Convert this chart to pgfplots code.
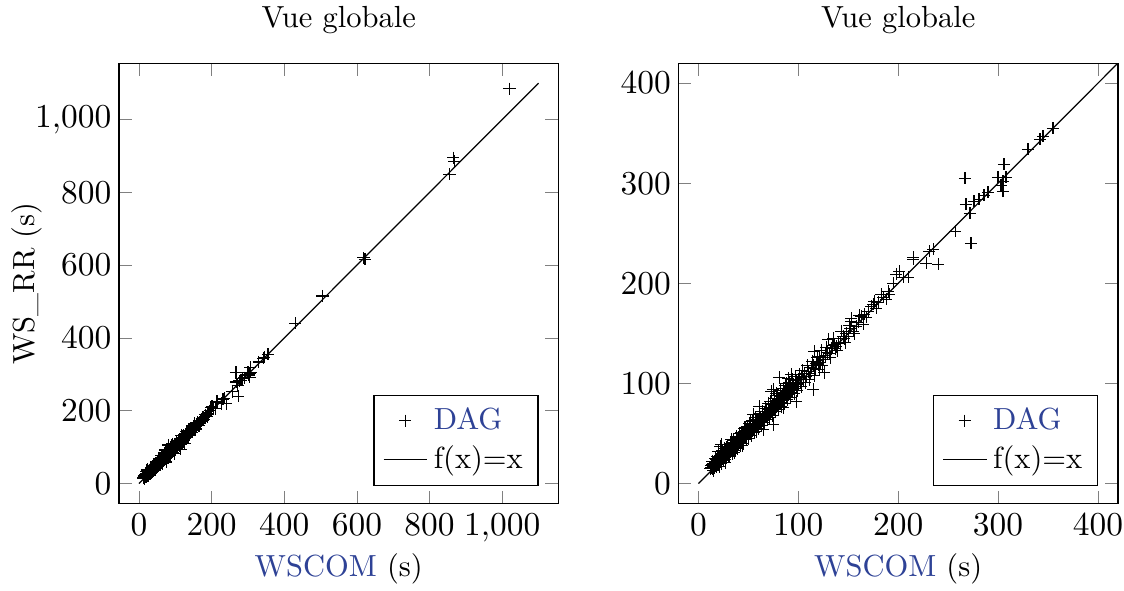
\documentclass[border=0pt]{standalone}
\usepackage{pgfplots}
\usepackage{pgfplotstable}
\pgfplotsset{compat=1.18}
\usetikzlibrary{calc}
\definecolor{dagblue}{RGB}{46,66,150}

\pgfplotstableread{
x y
12 15
13 16
13 18
14 15
14 19
15 17
15 20
16 16
16 19
16 22
17 18
17 21
18 17
18 20
18 24
19 19
19 22
20 20
20 23
20 26
21 21
21 25
22 22
22 24
22 28
23 23
23 26
24 25
24 29
25 24
25 27
25 31
26 26
26 29
27 28
27 32
28 27
28 30
29 29
29 33
30 30
30 34
31 31
31 35
32 32
32 36
33 33
33 37
34 35
34 39
35 34
35 38
36 36
36 41
37 37
37 40
38 38
38 43
39 40
39 44
40 39
40 42
40 46
20 32
23 39
33 44
22 37
28 36
27 24
30 27
36 31
41 41
41 45
42 43
42 47
43 42
43 46
44 45
44 49
45 44
45 48
46 47
46 51
47 46
47 50
48 48
48 53
49 50
50 49
50 53
51 52
52 51
52 56
53 54
54 53
54 58
55 56
55 60
56 55
57 58
57 62
58 57
59 60
59 64
60 59
60 63
61 62
62 61
62 66
63 64
64 63
64 68
65 66
66 65
66 70
67 68
68 67
68 72
69 70
70 69
70 74
55 69
61 77
65 54
75 59
58 52
52 62
47 56
44 38
71 72
72 71
72 76
73 75
74 73
74 79
75 76
76 75
76 80
77 79
78 77
78 83
79 80
80 79
80 84
81 82
82 81
82 87
83 85
84 83
84 88
85 86
86 85
86 91
87 89
88 87
88 92
89 90
90 89
90 95
91 93
92 91
92 96
93 94
94 93
94 99
95 96
96 95
97 99
98 97
98 103
99 100
100 99
100 104
73 92
81 106
93 109
75 94
95 97
98 82
85 76
78 90
88 100
90 105
102 101
103 106
105 104
106 110
108 107
110 112
112 110
113 116
115 94
115 118
116 132
117 115
118 120
120 119
121 127
122 121
125 124
126 111
127 128
129 131
130 144
131 130
133 135
134 138
136 139
137 135
138 137
140 141
142 140
145 147
146 145
148 150
150 147
152 155
153 162
153 165
155 152
158 157
160 161
163 167
166 169
168 166
173 177
175 179
176 182
180 181
185 186
190 192
191 189
195 200
198 209
201 212
205 206
210 206
215 224
215 226
228 220
231 232
235 234
240 219
257 252
268 279
272 270
273 240
276 282
281 284
267 305
286 288
290 291
300 306
303 298
305 302
305 292
306 319
308 306
330 334
342 344
345 347
355 355
430 440
505 515
618 620
622 616
855 850
865 895
868 885
1020 1085
14 22
15 13
17 25
19 27
21 17
23 20
24 33
26 35
27 21
29 37
31 27
32 40
34 30
35 43
37 33
38 47
39 35
41 50
42 38
43 51
45 40
46 55
48 44
49 57
50 45
51 60
53 48
54 63
56 51
57 66
58 63
60 55
61 70
63 58
64 72
66 61
67 75
69 64
70 80
71 66
72 82
74 68
76 85
77 72
79 88
80 74
82 93
83 77
85 95
86 80
87 98
89 84
91 101
92 86
94 104
96 90
97 107
99 93
101 109
103 97
104 113
107 101
109 118
111 104
114 122
116 108
119 126
121 114
123 133
124 118
128 136
132 126
135 145
139 133
143 152
147 141
151 158
156 150
161 168
165 159
170 172
178 175
183 189
188 184
}\datatable

\pgfplotsset{
  myaxis/.style={
    scale only axis,
    width=144pt, height=144.3pt,
    title={Vue globale},
    xlabel={\textcolor{dagblue}{WSCOM} (s)},
    xlabel shift=-3pt,
    ticklabel style={font=\fontsize{10.95}{13}\selectfont},
    xticklabel style={text depth=2pt},
    yticklabel style={xshift=1pt},
    legend style={at={(0.955,0.039)}, anchor=south east, legend cell align=left},
  },
  dagplot/.style={only marks, mark=+, black,
    legend image code/.code={\draw[##1,mark repeat=2,mark phase=2] plot coordinates {(0cm,0cm) (0.25cm,0cm) (0.5cm,0cm)};}},
  idplot/.style={black, no marks,
    legend image code/.code={\draw[##1] (0cm,0cm) -- (0.5cm,0cm);}},
}

\begin{document}
\begin{tikzpicture}
\begin{axis}[myaxis, name=left,
  xmin=-55, xmax=1155, ymin=-55, ymax=1155,
  xtick={0,200,400,600,800,1000},
  ytick={0,200,400,600,800,1000},
  ylabel={WS\_RR (s)},
  ylabel shift=-9pt,
]
\addplot[dagplot] table[x=x,y=y] {\datatable};
\addlegendentry{\textcolor{dagblue}{DAG}}
\addplot[idplot] coordinates {(0,0) (1100,1100)};
\addlegendentry{f(x)=x}
\end{axis}
\begin{axis}[myaxis, name=right, xshift=183.3pt,
  xmin=-20, xmax=420, ymin=-20, ymax=420,
  xtick={0,100,200,300,400},
  ytick={0,100,200,300,400},
]
\addplot[dagplot] table[x=x,y=y] {\datatable};
\addlegendentry{\textcolor{dagblue}{DAG}}
\addplot[idplot] coordinates {(0,0) (1100,1100)};
\addlegendentry{f(x)=x}
\end{axis}
\pgfresetboundingbox
\useasboundingbox ($(left.south west)+(-39pt,-28.5pt)$) rectangle ($(right.north east)+(2pt,20.7pt)$);
\end{tikzpicture}
\end{document}
